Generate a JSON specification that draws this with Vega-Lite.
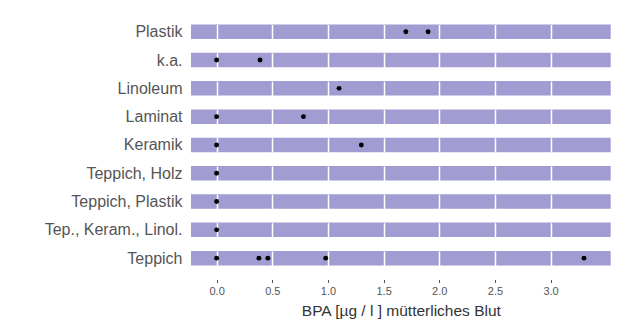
{
  "$schema": "https://vega.github.io/schema/vega-lite/v6.json",
  "padding": {"left": 44, "top": 23.5, "right": 26, "bottom": 2},
  "background": "white",
  "data": {"values": [
    {"Boden": "Plastik", "BPA": 1.70},
    {"Boden": "Plastik", "BPA": 1.90},
    {"Boden": "k.a.", "BPA": 0.0},
    {"Boden": "k.a.", "BPA": 0.39},
    {"Boden": "Linoleum", "BPA": 1.10},
    {"Boden": "Laminat", "BPA": 0.0},
    {"Boden": "Laminat", "BPA": 0.78},
    {"Boden": "Keramik", "BPA": 0.0},
    {"Boden": "Keramik", "BPA": 1.30},
    {"Boden": "Teppich, Holz", "BPA": 0.0},
    {"Boden": "Teppich, Plastik", "BPA": 0.0},
    {"Boden": "Tep., Keram., Linol.", "BPA": 0.0},
    {"Boden": "Teppich", "BPA": 0.0},
    {"Boden": "Teppich", "BPA": 0.38},
    {"Boden": "Teppich", "BPA": 0.46},
    {"Boden": "Teppich", "BPA": 0.98},
    {"Boden": "Teppich", "BPA": 3.30}
  ]},
  "facet": {
    "row": {
      "field": "Boden",
      "type": "nominal",
      "sort": ["Plastik", "k.a.", "Linoleum", "Laminat", "Keramik", "Teppich, Holz", "Teppich, Plastik", "Tep., Keram., Linol.", "Teppich"],
      "header": {"title": null, "labels": false}
    }
  },
  "spacing": {"row": 10.3},
  "resolve": {"scale": {"y": "independent"}},
  "spec": {
    "width": 419.7,
    "height": 14.5,
    "mark": {"type": "point", "filled": true, "color": "black", "size": 24, "opacity": 1},
    "encoding": {
      "y": {
        "field": "Boden",
        "type": "nominal",
        "scale": {"paddingInner": 0, "paddingOuter": 0},
        "axis": {
          "title": null,
          "domain": false,
          "ticks": false,
          "labelPadding": 9,
          "labelFont": "Liberation Sans",
          "labelFontSize": 16,
          "labelColor": "#555555",
          "labelLimit": 300
        }
      },
      "x": {
        "field": "BPA",
        "type": "quantitative",
        "scale": {"domain": [-0.23, 3.54], "nice": false, "zero": false},
        "axis": {
          "title": "BPA [µg / l ] mütterliches Blut",
          "values": [0, 0.5, 1, 1.5, 2, 2.5, 3],
          "format": ".1f",
          "grid": true,
          "gridColor": "white",
          "gridWidth": 1.5,
          "domain": false,
          "offset": 2,
          "tickSize": 13,
          "tickDash": [0, 10, 3.5, 20],
          "tickWidth": 1,
          "tickColor": "#555555",
          "labelPadding": 2.5,
          "labelFont": "Liberation Sans",
          "labelFontSize": 11,
          "labelColor": "#555555",
          "titleFont": "Liberation Sans",
          "titleFontSize": 15.5,
          "titleFontWeight": "normal",
          "titleColor": "#333333",
          "titlePadding": 7
        }
      }
    }
  },
  "config": {
    "view": {"fill": "#a19cd1", "stroke": null}
  }
}
